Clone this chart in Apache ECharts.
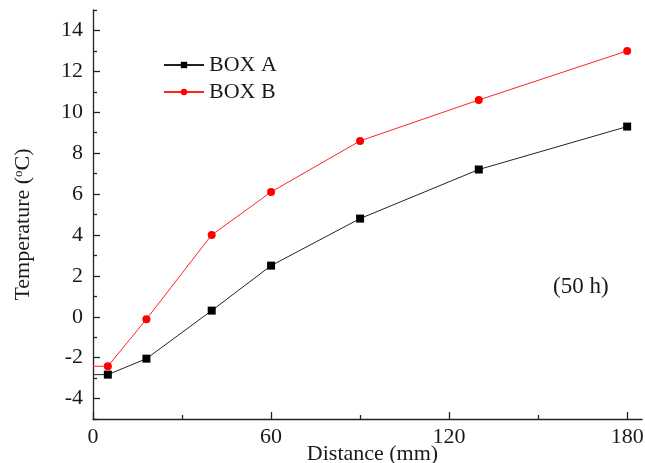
<!DOCTYPE html>
<html>
<head>
<meta charset="utf-8">
<script src="https://cdn.jsdelivr.net/npm/echarts@6/dist/echarts.min.js"></script>
<style>html,body{margin:0;padding:0;background:#fff}#c{width:645px;height:463px}</style>
</head>
<body>
<div id="c"></div>
<script>
const distance = [0, 5, 18, 40, 60, 90, 130, 180];
const boxA = [-2.83, -2.83, -2.05, 0.3, 2.5, 4.8, 7.2, 9.3];
const boxB = [-2.42, -2.42, -0.12, 4.0, 6.1, 8.6, 10.6, 13.0];
const xLabels = [0, 60, 120, 180];
const xMinor = [30, 90, 150];
const yLabels = [-4, -2, 0, 2, 4, 6, 8, 10, 12, 14];
const yMinor = [-5, -3, -1, 1, 3, 5, 7, 9, 11, 13, 15];

const font = '"Liberation Serif", "Times New Roman", serif';
const ink = '#1a1a1a';
function pts(ys) {
  return distance.map((x, i) => i === 0 ? { value: [x, ys[i]], symbol: 'none' } : [x, ys[i]]);
}
const chart = echarts.init(document.getElementById('c'));
chart.setOption({
  animation: false,
  textStyle: { fontFamily: font },
  grid: { left: 93, right: 3, top: 10, bottom: 44, containLabel: false, outerBoundsMode: 'none' },
  legend: {
    orient: 'vertical', left: 158, top: 49, itemGap: 5, itemWidth: 40, itemHeight: 8,
    textStyle: { fontFamily: font, fontSize: 22, color: ink },
    data: ['BOX A', 'BOX B']
  },
  xAxis: [{
    type: 'value', min: 0, max: 185,
    name: 'Distance (mm)', nameLocation: 'middle', nameGap: 24, nameMoveOverlap: false,
    nameTextStyle: { fontFamily: font, fontSize: 22, color: ink, padding: [0, 0, 0, 10] },
    axisLine: { onZero: false, lineStyle: { color: '#222', width: 1.3 } },
    axisTick: { inside: true, length: 7, customValues: xLabels, lineStyle: { color: '#222', width: 1.3 } },
    axisLabel: { customValues: xLabels, margin: 7, fontFamily: font, fontSize: 22, color: ink },
    splitLine: { show: false }
  }, {
    type: 'value', min: 0, max: 185, position: 'bottom',
    axisLine: { show: false, onZero: false },
    axisTick: { inside: true, length: 4, customValues: xMinor, lineStyle: { color: '#222', width: 1.3 } },
    axisLabel: { show: false }, splitLine: { show: false }
  }],
  yAxis: [{
    type: 'value', min: -5, max: 15,
    name: 'Temperature ({sup|o}C)', nameLocation: 'middle', nameGap: 58, nameMoveOverlap: false,
    nameTextStyle: { fontFamily: font, fontSize: 22, color: ink, padding: [0, 20, 0, 0],
      rich: { sup: { fontFamily: font, fontSize: 13, color: ink, padding: [0, 0, 10, 0] } } },
    axisLine: { show: true, onZero: false, lineStyle: { color: '#222', width: 1.3 } },
    axisTick: { show: true, inside: true, length: 7, customValues: yLabels, lineStyle: { color: '#222', width: 1.3 } },
    axisLabel: { customValues: yLabels, margin: 10, fontFamily: font, fontSize: 22, color: ink },
    splitLine: { show: false }
  }, {
    type: 'value', min: -5, max: 15, position: 'left',
    axisLine: { show: false, onZero: false },
    axisTick: { show: true, inside: true, length: 4, customValues: yMinor, lineStyle: { color: '#222', width: 1.3 } },
    axisLabel: { show: false }, splitLine: { show: false }
  }],
  graphic: [{
    type: 'text', left: 553, top: 275,
    style: { text: '(50 h)', fontFamily: font, fontSize: 23, fill: ink }
  }],
  series: [{
    name: 'BOX A', type: 'line', data: pts(boxA),
    symbol: 'rect', symbolSize: 8,
    lineStyle: { color: '#222', width: 1 }, itemStyle: { color: '#000' }
  }, {
    name: 'BOX B', type: 'line', data: pts(boxB),
    symbol: 'circle', symbolSize: 8,
    lineStyle: { color: '#f22', width: 1 }, itemStyle: { color: '#f00' }
  }]
});
</script>
</body>
</html>
